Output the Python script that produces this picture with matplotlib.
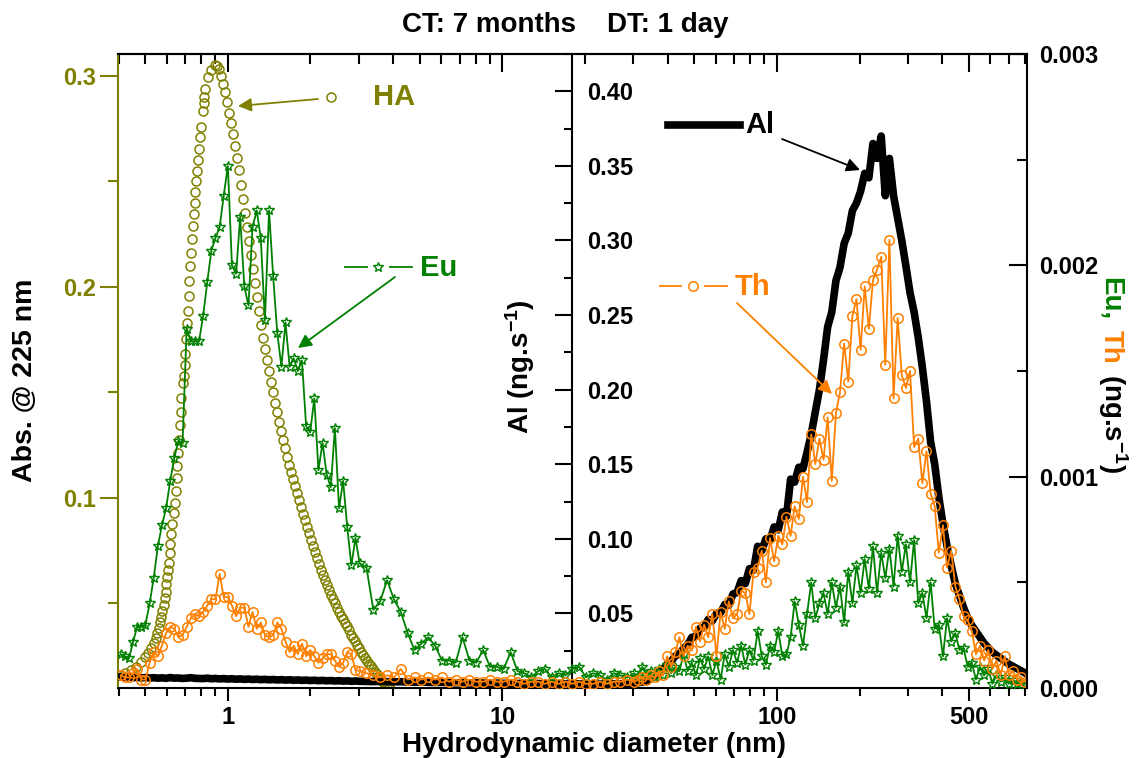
import numpy as np
import matplotlib
matplotlib.use('Agg')
import matplotlib.pyplot as plt
from matplotlib.ticker import FixedLocator, LogLocator, NullFormatter, FormatStrFormatter, FuncFormatter
from matplotlib.lines import Line2D

plt.rcParams['font.family'] = ['Liberation Sans', 'DejaVu Sans']
plt.rcParams['font.weight'] = 'bold'
plt.rcParams['font.size'] = 17
plt.rcParams['mathtext.fontset'] = 'custom'
plt.rcParams['mathtext.rm'] = 'Liberation Sans:bold'
plt.rcParams['mathtext.bf'] = 'Liberation Sans:bold'
plt.rcParams['mathtext.it'] = 'Liberation Sans:bold:italic'
plt.rcParams['mathtext.default'] = 'rm'
plt.rcParams['axes.linewidth'] = 1.5

OLIVE = '#808000'
GREEN = '#008000'
ORANGE = '#ff8000'

#
#  Data
#
# HA, UV absorbance (left axis)
ha_d = [0.404, 0.421, 0.445, 0.464, 0.482, 0.498, 0.512, 0.526, 0.538, 0.546,
        0.553, 0.560, 0.566, 0.572, 0.577, 0.584, 0.589, 0.594, 0.597, 0.602,
        0.605, 0.609, 0.614, 0.617, 0.622, 0.627, 0.635, 0.640, 0.645, 0.653,
        0.655, 0.658, 0.662, 0.668, 0.673, 0.676, 0.686, 0.690, 0.696, 0.699,
        0.705, 0.709, 0.715, 0.720, 0.723, 0.729, 0.735, 0.742, 0.748, 0.752,
        0.757, 0.761, 0.767, 0.773, 0.778, 0.783, 0.789, 0.800, 0.811, 0.816,
        0.822, 0.827, 0.846, 0.867,
        0.897, 0.912, 0.927, 0.943, 0.959, 0.975, 0.992, 1.008, 1.025, 1.043,
        1.060, 1.078, 1.097, 1.115, 1.134, 1.153, 1.172, 1.192, 1.212, 1.233,
        1.254, 1.275, 1.296, 1.318, 1.341, 1.363, 1.386, 1.410, 1.433, 1.458,
        1.482, 1.507, 1.533, 1.559, 1.585, 1.612, 1.639, 1.667, 1.695, 1.723,
        1.752, 1.782, 1.812, 1.843, 1.874, 1.906, 1.938, 1.970, 2.004, 2.038,
        2.072, 2.107, 2.142, 2.179, 2.215, 2.253, 2.291, 2.330, 2.369, 2.409,
        2.450, 2.491, 2.533, 2.576, 2.619, 2.664, 2.709, 2.754, 2.801, 2.848,
        2.896, 2.945, 2.995, 3.045, 3.097, 3.149, 3.202, 3.256, 3.311, 3.367,
        3.424, 3.482, 3.541, 3.601, 3.661, 3.723, 3.786, 3.850]
ha_abs = [0.0161, 0.0169, 0.0185, 0.0200, 0.0224, 0.0245, 0.0264, 0.0288, 0.0314, 0.0338,
          0.0362, 0.0385, 0.0411, 0.0437, 0.0466, 0.0493, 0.0525, 0.0556, 0.0591, 0.0624,
          0.0659, 0.0694, 0.0741, 0.0782, 0.0828, 0.0877, 0.0930, 0.0978, 0.1035, 0.1093,
          0.1152, 0.1212, 0.1275, 0.1346, 0.1409, 0.1472, 0.1543, 0.1580, 0.1630, 0.1682,
          0.1754, 0.1828, 0.1885, 0.1959, 0.2030, 0.2100, 0.2160, 0.2227, 0.2290, 0.2346,
          0.2397, 0.2449, 0.2500, 0.2550, 0.2600, 0.2654, 0.2710, 0.2760, 0.2835, 0.2870,
          0.2900, 0.2940, 0.2994, 0.3030,
          0.3050, 0.3045, 0.3035, 0.3000, 0.2960, 0.2925, 0.2875, 0.2825, 0.2778, 0.2725,
          0.2670, 0.2612, 0.2552, 0.2483, 0.2418, 0.2352, 0.2285, 0.2218, 0.2150, 0.2085,
          0.2018, 0.1952, 0.1886, 0.1820, 0.1760, 0.1705, 0.1652, 0.1600, 0.1550, 0.1500,
          0.1452, 0.1407, 0.1362, 0.1318, 0.1276, 0.1236, 0.1196, 0.1158, 0.1122, 0.1088,
          0.1055, 0.1022, 0.0990, 0.0958, 0.0926, 0.0895, 0.0864, 0.0833, 0.0803, 0.0773,
          0.0744, 0.0716, 0.0688, 0.0661, 0.0635, 0.0610, 0.0586, 0.0563, 0.0541, 0.0520,
          0.0500, 0.0480, 0.0461, 0.0443, 0.0425, 0.0408, 0.0391, 0.0375, 0.0352, 0.0337,
          0.0322, 0.0305, 0.0288, 0.0272, 0.0258, 0.0243, 0.0229, 0.0215, 0.0202, 0.0189,
          0.0177, 0.0165, 0.0152, 0.0140, 0.0130, 0.0121, 0.0113, 0.0106]

# ICP-MS fractograms (Al, Eu, Th) share one diameter scale
d_icp = [0.4074, 0.4217, 0.4365, 0.4519, 0.4677, 0.4842, 0.5012, 0.5188, 0.5370, 0.5559,
         0.5754, 0.5957, 0.6166, 0.6383, 0.6607, 0.6839, 0.7079, 0.7328, 0.7586, 0.7852,
         0.8128, 0.8414, 0.8710, 0.9016, 0.9333, 0.9661, 1.000, 1.035, 1.072, 1.109,
         1.148, 1.189, 1.230, 1.274, 1.318, 1.365, 1.413, 1.462, 1.514, 1.567,
         1.622, 1.679, 1.738, 1.799, 1.862, 1.928, 1.995, 2.065, 2.138, 2.213,
         2.291, 2.371, 2.455, 2.541, 2.630, 2.723, 2.818, 2.917, 3.020,
         3.199, 3.388, 3.589, 3.802, 4.027, 4.266, 4.519, 4.786, 5.070, 5.370,
         5.689, 6.026, 6.383, 6.761, 7.161, 7.586, 8.035, 8.511, 9.016, 9.550,
         10.12, 10.72, 11.35, 12.02, 12.74, 13.49, 14.29, 15.14, 16.03, 16.98,
         17.99, 19.05, 20.18, 21.38, 22.65, 23.99, 25.41, 26.92, 28.51, 30.20,
         31.26, 32.36, 33.50, 34.67, 35.89, 37.15, 38.46, 39.81, 41.21, 42.66,
         44.16, 45.71, 47.32, 48.98, 50.70, 52.48, 54.33, 56.23, 58.21, 60.26,
         62.37, 64.57, 66.83, 69.18, 71.61, 74.13, 76.74, 79.43, 82.22, 85.11,
         88.10, 91.20, 94.41, 97.72, 101.2, 104.7, 108.4, 112.2, 116.1, 120.2,
         124.5, 128.8, 133.4, 138.0, 142.9, 147.9, 153.1, 158.5, 164.1, 169.8,
         175.8, 182.0, 188.4, 195.0, 201.8, 208.9, 216.3, 223.9, 231.7, 239.9,
         248.3, 257.0, 266.1, 275.4, 285.1, 295.1, 305.5, 316.2, 327.3, 338.8,
         350.8, 363.1, 375.8, 389.0, 402.7, 416.9, 431.5, 446.7, 462.4, 478.6,
         495.5, 512.9, 530.9, 549.5, 568.9, 588.8, 609.5, 631.0, 653.1, 676.1,
         699.8, 724.4, 749.9, 776.2, 803.5]

# Eu and Th in units of 1e-3 ng/s (right axis)
eu = [0.16, 0.15, 0.14, 0.22, 0.29, 0.29, 0.30, 0.40, 0.52, 0.67,
      0.77, 0.85, 0.98, 1.09, 1.17, 1.16, 1.70, 1.64, 1.64, 1.64,
      1.76, 1.92, 2.07, 2.13, 2.18, 2.33, 2.47, 2.00, 1.96, 2.23,
      1.90, 1.81, 2.18, 2.26, 2.13, 1.74, 2.26, 1.95, 1.68, 1.52,
      1.73, 1.52, 1.56, 1.50, 1.55, 1.24, 1.21, 1.37, 1.03, 1.16,
      1.01, 0.95, 1.23, 0.85, 0.98, 0.76, 0.58, 0.71, 0.59,
      0.57, 0.37, 0.41, 0.51, 0.42, 0.36, 0.26, 0.18, 0.21, 0.24,
      0.20, 0.13, 0.13, 0.12, 0.24, 0.13, 0.12, 0.18, 0.10, 0.10,
      0.09, 0.17, 0.08, 0.07, 0.05, 0.08, 0.09, 0.05, 0.07, 0.06,
      0.09, 0.10, 0.05, 0.07, 0.06, 0.04, 0.07, 0.06, 0.05, 0.07,
      0.05, 0.10, 0.06, 0.08, 0.05, 0.09, 0.06, 0.11, 0.07, 0.10,
      0.08, 0.16, 0.08, 0.12, 0.06, 0.14, 0.09, 0.15, 0.06, 0.13,
      0.04, 0.16, 0.10, 0.18, 0.12, 0.20, 0.11, 0.18, 0.13, 0.27,
      0.15, 0.11, 0.20, 0.17, 0.27, 0.15, 0.16, 0.24, 0.41, 0.30,
      0.20, 0.35, 0.50, 0.33, 0.40, 0.45, 0.35, 0.50, 0.38, 0.48,
      0.31, 0.55, 0.40, 0.58, 0.45, 0.61, 0.47, 0.67, 0.45, 0.64,
      0.52, 0.66, 0.48, 0.72, 0.55, 0.68, 0.50, 0.70, 0.40, 0.45,
      0.33, 0.50, 0.28, 0.30, 0.15, 0.33, 0.22, 0.26, 0.18, 0.19,
      0.10, 0.12, 0.04, 0.10, 0.06, 0.09, 0.02, 0.06, 0.03, 0.05,
      0.02, 0.04, 0.02, 0.03, 0.02]
th = [0.06, 0.05, 0.05, 0.07, 0.09, 0.04, 0.04, 0.12, 0.17, 0.15,
      0.20, 0.26, 0.29, 0.28, 0.24, 0.25, 0.29, 0.33, 0.35, 0.34,
      0.36, 0.39, 0.42, 0.42, 0.54, 0.43, 0.43, 0.39, 0.34, 0.38,
      0.38, 0.29, 0.36, 0.28, 0.31, 0.25, 0.24, 0.25, 0.31, 0.28,
      0.22, 0.17, 0.20, 0.16, 0.21, 0.15, 0.18, 0.15, 0.12, 0.14,
      0.16, 0.16, 0.13, 0.10, 0.12, 0.17, 0.16, 0.085, 0.08,
      0.07, 0.06, 0.05, 0.06, 0.05, 0.09, 0.04, 0.05, 0.04, 0.05,
      0.04, 0.05, 0.03, 0.04, 0.03, 0.04, 0.03, 0.03, 0.04, 0.03,
      0.03, 0.04, 0.03, 0.02, 0.03, 0.03, 0.02, 0.03, 0.02, 0.03,
      0.02, 0.03, 0.02, 0.02, 0.03, 0.02, 0.03, 0.03, 0.04, 0.03,
      0.04, 0.05, 0.04, 0.06, 0.05, 0.08, 0.06, 0.15, 0.10, 0.17,
      0.24, 0.15, 0.20, 0.18, 0.29, 0.22, 0.30, 0.24, 0.35, 0.15,
      0.36, 0.28, 0.41, 0.33, 0.35, 0.46, 0.45, 0.35, 0.55, 0.57,
      0.65, 0.50, 0.71, 0.60, 0.72, 0.68, 0.81, 0.72, 0.86, 0.80,
      1.00, 0.88, 1.20, 1.06, 1.18, 1.08, 1.28, 0.98, 1.30, 1.40,
      1.63, 1.45, 1.76, 1.84, 1.60, 1.90, 1.70, 1.93, 1.98, 2.04,
      1.53, 2.12, 1.37, 1.75, 1.48, 1.42, 1.50, 1.14, 1.18, 0.97,
      1.12, 0.92, 0.86, 0.64, 0.77, 0.57, 0.65, 0.48, 0.42, 0.34,
      0.32, 0.27, 0.16, 0.20, 0.13, 0.18, 0.09, 0.13, 0.06, 0.15,
      0.06, 0.08, 0.04, 0.05, 0.03]

# Al in ng/s (middle axis)
al = [0.0075, 0.0072, 0.0074, 0.0070, 0.0071, 0.0068, 0.0070, 0.0067, 0.0069, 0.0066,
      0.0068, 0.0065, 0.0070, 0.0066, 0.0067, 0.0064, 0.0066, 0.0069, 0.0065, 0.0064,
      0.0063, 0.0066, 0.0062, 0.0064, 0.0061, 0.0063, 0.0060, 0.0062, 0.0059, 0.0061,
      0.0058, 0.0060, 0.0057, 0.0059, 0.0056, 0.0058, 0.0055, 0.0057, 0.0054, 0.0056,
      0.0053, 0.0055, 0.0052, 0.0054, 0.0051, 0.0053, 0.0050, 0.0052, 0.0049, 0.0051,
      0.0048, 0.0050, 0.0047, 0.0049, 0.0046, 0.0048, 0.0045, 0.0047, 0.0045,
      0.0044, 0.0043, 0.0044, 0.0042, 0.0041, 0.0042, 0.0040, 0.0039, 0.0040, 0.0038,
      0.0037, 0.0038, 0.0036, 0.0035, 0.0036, 0.0034, 0.0035, 0.0033, 0.0032, 0.0033,
      0.0031, 0.0032, 0.0030, 0.0031, 0.0029, 0.0030, 0.0028, 0.0029, 0.0028, 0.0027,
      0.0028, 0.0027, 0.0026, 0.0027, 0.0026, 0.0027, 0.0026, 0.0028, 0.0029, 0.0031,
      0.0035, 0.0040, 0.0048, 0.0060, 0.0080, 0.0105, 0.0125, 0.0160, 0.0180, 0.0215,
      0.0230, 0.0265, 0.0290, 0.0340, 0.0345, 0.0400, 0.0405, 0.0460, 0.0450, 0.0500,
      0.0505, 0.0560, 0.0555, 0.0630, 0.0640, 0.0720, 0.0700, 0.0800, 0.0790, 0.0950,
      0.0920, 0.1000, 0.0990, 0.1080, 0.1060, 0.1180, 0.1150, 0.1400, 0.1380, 0.1480,
      0.1470, 0.1580, 0.1700, 0.1850, 0.2000, 0.2200, 0.2420, 0.2520, 0.2730, 0.2820,
      0.2980, 0.3050, 0.3200, 0.3250, 0.3330, 0.3450, 0.3420, 0.3650, 0.3550, 0.3700,
      0.3300, 0.3550, 0.3300, 0.3150, 0.3000, 0.2830, 0.2650, 0.2520, 0.2350, 0.2150,
      0.1920, 0.1650, 0.1500, 0.1280, 0.1100, 0.0950, 0.0820, 0.0700, 0.0620, 0.0540,
      0.0470, 0.0420, 0.0380, 0.0340, 0.0300, 0.0270, 0.0240, 0.0220, 0.0200, 0.0180,
      0.0160, 0.0145, 0.0130, 0.0115, 0.0100]

x_major = [1, 10, 100, 500]
abs_ticks = [0.1, 0.2, 0.3]
al_ticks = [0.00, 0.05, 0.10, 0.15, 0.20, 0.25, 0.30, 0.35, 0.40]
r_ticks = [0.000, 0.001, 0.002, 0.003]

n = min(len(d_icp), len(eu), len(th), len(al))
nh = min(len(ha_d), len(ha_abs))

W, H = 1137, 758
def fpos(px, py):
    # reference pixel -> figure fraction
    return px / W, 1 - py / H


#
#  Figure and axes
#
fig = plt.figure(figsize=(W / 100, H / 100), dpi=100)
ax = fig.add_axes([118 / W, 70 / H, 909 / W, 634 / H])
ax.set_xscale('log')

ax.plot(ha_d[:nh], ha_abs[:nh], linestyle='none', marker='o', ms=6.5,
        mfc='none', mec=OLIVE, mew=1.1)
ax.set_xlim(0.398, 815)
ax.set_ylim(0.00995, 0.3104)

ax_al = ax.twinx()
ax_al.plot(d_icp[:n], al[:n], color='k', lw=5.5)
ax_al.set_ylim(0, 0.425)

ax_r = ax.twinx()
ax_r.plot(d_icp[:n], np.array(eu[:n]) * 1e-3, color=GREEN, lw=1.3,
          marker='*', ms=7, mfc='none', mec=GREEN, mew=1.0)
ax_r.plot(d_icp[:n], np.array(th[:n]) * 1e-3, color=ORANGE, lw=1.3,
          marker='o', ms=6.8, mfc='none', mec=ORANGE, mew=1.1)
ax_r.set_ylim(0, 0.003)

# x axis
ax.xaxis.set_major_locator(FixedLocator(x_major))
ax.xaxis.set_major_formatter(FuncFormatter(lambda v, p: f'{v:g}'))
ax.xaxis.set_minor_locator(LogLocator(base=10, subs=np.arange(2, 10)))
ax.xaxis.set_minor_formatter(NullFormatter())
ax.tick_params(axis='x', which='major', direction='out', length=9, width=1.5, pad=4)
ax.tick_params(axis='x', which='minor', direction='out', length=6, width=1.5)

top = ax.secondary_xaxis('top')
top.xaxis.set_major_locator(FixedLocator(x_major))
top.xaxis.set_minor_locator(LogLocator(base=10, subs=np.arange(2, 10)))
top.xaxis.set_minor_formatter(NullFormatter())
top.tick_params(which='both', direction='in', labeltop=False, width=1.5)
top.tick_params(which='major', length=13)
top.tick_params(which='minor', length=7)
top.spines['top'].set_linewidth(1.5)

# left axis (HA)
ax.yaxis.set_major_locator(FixedLocator(abs_ticks))
ax.yaxis.set_minor_locator(FixedLocator([0.05, 0.15, 0.25]))
ax.yaxis.set_major_formatter(FormatStrFormatter('%.1f'))
ax.tick_params(axis='y', which='both', direction='out', width=1.5, colors=OLIVE, pad=3)
ax.tick_params(axis='y', which='major', length=13)
ax.tick_params(axis='y', which='minor', length=7)
ax.spines['left'].set_color(OLIVE)
ax.spines['right'].set_visible(False)

# middle axis (Al)
for s in ['left', 'top', 'bottom']:
    ax_al.spines[s].set_visible(False)
ax_al.spines['right'].set_position(('axes', 0.4994))
ax_al.yaxis.set_major_locator(FixedLocator(al_ticks))
ax_al.yaxis.set_minor_locator(FixedLocator([0.025, 0.075, 0.125, 0.175, 0.225,
                                            0.275, 0.325, 0.375, 0.425]))
ax_al.yaxis.set_major_formatter(FormatStrFormatter('%.2f'))
ax_al.tick_params(axis='y', which='both', direction='in', width=1.5, pad=11)
ax_al.tick_params(axis='y', which='major', length=12)
ax_al.tick_params(axis='y', which='minor', length=6)
for t in ax_al.yaxis.get_major_ticks():
    t.label2.set_clip_box(ax.bbox)
    t.label2.set_clip_on(True)

# right axis (Eu, Th)
for s in ['left', 'top', 'bottom']:
    ax_r.spines[s].set_visible(False)
ax_r.yaxis.set_major_locator(FixedLocator(r_ticks))
ax_r.yaxis.set_minor_locator(FixedLocator([0.0005, 0.0015, 0.0025]))
ax_r.yaxis.set_major_formatter(FormatStrFormatter('%.3f'))
ax_r.tick_params(axis='y', which='both', direction='in', width=1.5, pad=9)
ax_r.tick_params(axis='y', which='major', length=13)
ax_r.tick_params(axis='y', which='minor', length=7)

#
#  Texts
#
fig.text(*fpos(565, 25), 'CT: 7 months    DT: 1 day', ha='center', va='center', fontsize=20)
fig.text(*fpos(594, 745), 'Hydrodynamic diameter (nm)', ha='center', va='center', fontsize=20)
fig.text(*fpos(25, 380), 'Abs. @ 225 nm', ha='center', va='center', rotation=90, fontsize=20.5)
fig.text(*fpos(520, 367), 'Al (ng.s$^{-1}$)', ha='center', va='center', rotation=90, fontsize=20)

for s, c, py in [('Eu,', GREEN, 277), ('Th', ORANGE, 330), ('(ng.s$^{-1}$)', 'k', 374)]:
    fig.text(*fpos(1104, py), s, color=c, rotation=270, rotation_mode='anchor',
             ha='left', va='baseline', fontsize=20)

# labels with small legend samples and arrows
fig.text(*fpos(373, 97), 'HA', color=OLIVE, ha='left', va='center', fontsize=21)
fig.text(*fpos(420, 268), 'Eu', color=GREEN, ha='left', va='center', fontsize=21)
fig.text(*fpos(745, 125), 'Al', color='k', ha='left', va='center', fontsize=21)
fig.text(*fpos(735, 287), 'Th', color=ORANGE, ha='left', va='center', fontsize=21)

def seg(p0, p1, **kw):
    x0, y0 = fpos(*p0)
    x1, y1 = fpos(*p1)
    fig.add_artist(Line2D([x0, x1], [y0, y1], transform=fig.transFigure, **kw))

def mark(p, **kw):
    x, y = fpos(*p)
    fig.add_artist(Line2D([x], [y], transform=fig.transFigure, linestyle='none', **kw))

mark((331, 97), marker='o', ms=6.5, mfc='none', mec=OLIVE, mew=1.1)
seg((345, 267), (367, 267), color=GREEN, lw=1.3)
seg((390, 267), (412, 267), color=GREEN, lw=1.3)
mark((378, 267), marker='*', ms=7, mfc='none', mec=GREEN, mew=1.0)
seg((668, 125), (740, 125), color='k', lw=5.5)
seg((660, 286), (681, 286), color=ORANGE, lw=1.3)
seg((705, 286), (727, 286), color=ORANGE, lw=1.3)
mark((693, 286), marker='o', ms=6.8, mfc='none', mec=ORANGE, mew=1.1)

def arrow(p_from, p_to, color):
    ax_r.annotate('', xy=fpos(*p_to), xytext=fpos(*p_from),
                  xycoords='figure fraction', textcoords='figure fraction',
                  arrowprops=dict(arrowstyle='-|>', color=color, lw=1.3,
                                  mutation_scale=20, shrinkA=0, shrinkB=0))

arrow((318, 99), (238, 106), OLIVE)
arrow((395, 277), (298, 348), GREEN)
arrow((782, 139), (860, 170), 'k')
arrow((737, 303), (832, 394), ORANGE)

fig.savefig('out.png', dpi=100)
